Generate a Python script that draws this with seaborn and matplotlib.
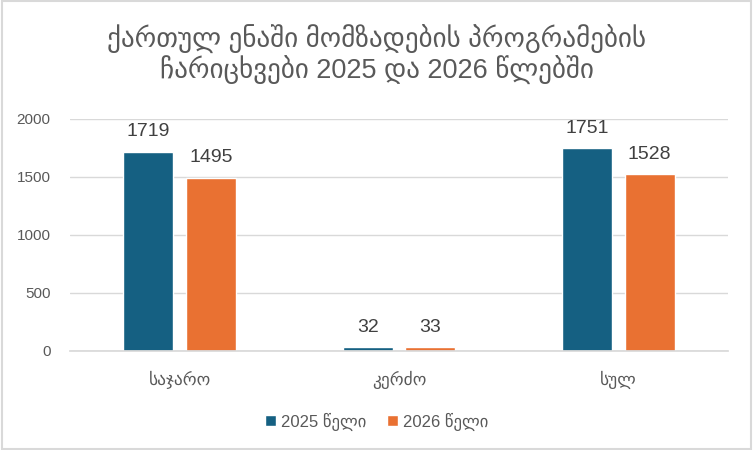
import seaborn as sns
import matplotlib.pyplot as plt
import pandas as pd

categories = ["საჯარო", "კერძო", "სულ"]
years = ["2025 წელი", "2026 წელი"]
values_2025 = [1719, 32, 1751]
values_2026 = [1495, 33, 1528]

df = pd.DataFrame({
    "cat": categories * 2,
    "year": [years[0]] * 3 + [years[1]] * 3,
    "val": values_2025 + values_2026,
})

sns.set_theme(style="white")
plt.rcParams['font.family'] = ['Liberation Sans', 'DejaVu Sans']

fig = plt.figure(figsize=(7.53, 4.5), dpi=100)
ax = fig.add_axes([70 / 753, 1 - 351 / 450, 658 / 753, 232 / 450])

sns.barplot(data=df, x="cat", y="val", hue="year", palette=["#156082", "#E97132"],
            width=0.57, gap=0.2, ax=ax, saturation=1, legend=True)

ax.set_ylim(0, 2000)
ax.set_yticks([0, 500, 1000, 1500, 2000])
ax.yaxis.grid(True, color="#D9D9D9", linewidth=1)
ax.set_axisbelow(True)
for s in ["top", "right", "left"]:
    ax.spines[s].set_visible(False)
ax.spines["bottom"].set_color("#D9D9D9")
ax.tick_params(axis="y", length=0, labelsize=11, labelcolor="#595959", pad=14)
ax.tick_params(axis="x", length=0, labelsize=12.5, labelcolor="#595959", pad=14)
ax.set_xlabel("")
ax.set_ylabel("")

for c in ax.containers:
    ax.bar_label(c, fontsize=14, color="#404040", padding=8)

leg = ax.legend(loc="upper center", bbox_to_anchor=(0.466, -0.2), ncol=2, frameon=False,
                fontsize=12, handlelength=0.7, handleheight=0.7, handletextpad=0.3,
                columnspacing=1.2, labelcolor="#595959")

fig.text(0.5, 1 - 55 / 450, "ქართულ ენაში მომზადების პროგრამების\nჩარიცხვები 2025 და 2026 წლებში",
         ha="center", va="center", fontsize=19.5, color="#595959", linespacing=1.1)

fig.patches.append(plt.Rectangle((0.002, 0.003), 0.996, 0.994, transform=fig.transFigure,
                                 fill=False, edgecolor="#D9D9D9", linewidth=1.5))

fig.savefig("out.png", dpi=100)
